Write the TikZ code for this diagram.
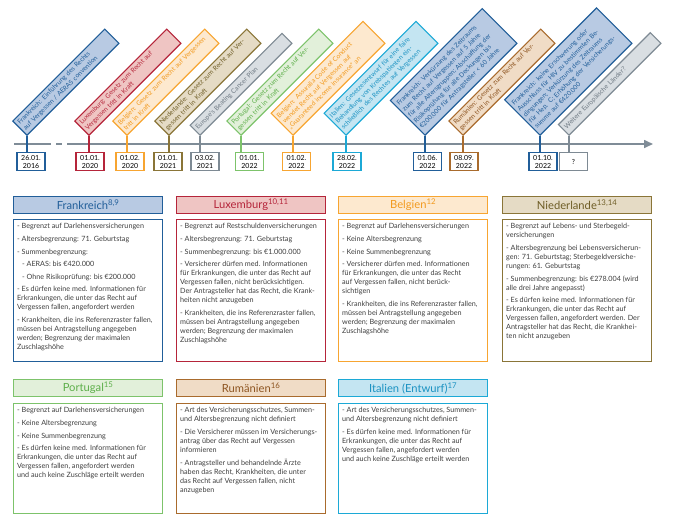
\documentclass[tikz,border=0pt]{standalone}
\usepackage{fontspec}
\setmainfont{Lato}
\usetikzlibrary{arrows.meta}
\definecolor{bluD}{HTML}{215E99}
\definecolor{bluF}{HTML}{B8CAE3}
\definecolor{redD}{HTML}{B5253A}
\definecolor{redF}{HTML}{EFC5C3}
\definecolor{orgD}{HTML}{F7A531}
\definecolor{orgF}{HTML}{FDE9CF}
\definecolor{orgT}{HTML}{F29A1E}
\definecolor{olvD}{HTML}{8A7538}
\definecolor{olvF}{HTML}{E5DBC5}
\definecolor{olvT}{HTML}{6F5E27}
\definecolor{gryD}{HTML}{7E8A94}
\definecolor{gryF}{HTML}{D9DEE2}
\definecolor{gryT}{HTML}{6E7983}
\definecolor{grnD}{HTML}{7DC36B}
\definecolor{grnF}{HTML}{E2F0DA}
\definecolor{grnT}{HTML}{5DAF4A}
\definecolor{cyaD}{HTML}{1CA9D6}
\definecolor{cyaF}{HTML}{C4E5F2}
\definecolor{cyaT}{HTML}{1A92C2}
\definecolor{brnD}{HTML}{A96B2D}
\definecolor{brnF}{HTML}{F0DCC6}
\definecolor{brnT}{HTML}{8E5521}
\definecolor{axisC}{HTML}{7F8C97}
\definecolor{bodyT}{HTML}{3F3F3F}
\newcommand\bitem[1]{\par\hangindent=3.9pt\hangafter=1\noindent-\ #1\par\vspace{3.6pt}}
\newcommand\sbitem[1]{\par\hangindent=9pt\hangafter=1\noindent\hspace*{5pt}-\ #1\par\vspace{3.6pt}}
\newcommand\bodytext[2]{\parbox[c][#1][t]{142pt}{\raggedright\parindent=0pt #2}}
\tikzset{
  cBlue/.style={draw=bluD, fill=bluF, text=bluD},
  cRed/.style={draw=redD, fill=redF, text=redD},
  cOrg/.style={draw=orgD, fill=orgF, text=orgT},
  cOlv/.style={draw=olvD, fill=olvF, text=olvT},
  cGry/.style={draw=gryD, fill=gryF, text=gryT},
  cGrn/.style={draw=grnD, fill=grnF, text=grnT},
  cCya/.style={draw=cyaD, fill=cyaF, text=cyaT},
  cBrn/.style={draw=brnD, fill=brnF, text=brnT},
  lbl/.style={rotate=45, anchor=south west, minimum width=130pt, text width=125pt,
    inner xsep=2.5pt, inner ysep=1pt, align=left, line width=1.1pt,
    font=\fontsize{6.5}{8.1}\selectfont},
  datebox/.style={draw, line width=1.1pt, fill=white, minimum width=28pt, minimum height=18pt,
    inner sep=0pt, align=center, anchor=north, text=black, font=\fontsize{7}{8}\selectfont},
  stem/.style={line width=1.1pt},
  axisline/.style={draw=axisC, line width=1.6pt},
  head/.style={line width=1.3pt, minimum width=149pt, minimum height=17pt, inner sep=0pt,
    anchor=north west, font=\fontsize{11.2}{12}\selectfont},
  body/.style={draw, line width=1.3pt, fill=white, anchor=north west, inner xsep=3.5pt, inner ysep=4pt,
    text=bodyT, font=\fontsize{7.2}{9}\selectfont}
}
\begin{document}
\begin{tikzpicture}[x=1pt,y=-1pt]
\useasboundingbox (0,0) rectangle (674,525);
% axis
\coordinate (A0) at (14,144);
\coordinate (A1) at (45,144);
\coordinate (A2) at (72,144);
\coordinate (A3) at (653,144);
\draw[axisline] (A0) -- (A1);
\draw[axisline, dash pattern=on 6pt off 5pt] (A1) -- (A2);
\draw[axisline, -{Triangle[length=9pt,width=8pt]}] (A2) -- (A3);
% labels
\node[lbl, cBlue, minimum height=20pt] (L1) at (27,136) {Frankreich: Einführung des Rechts\\auf Vergessen / AERAS convention};
\node[lbl, cRed, minimum height=20pt] (L2) at (89,136) {Luxemburg: Gesetz zum Recht auf\\Vergessen tritt in Kraft};
\node[lbl, cOrg, minimum height=20pt] (L3) at (127,136) {Belgien: Gesetz zum Recht auf Vergessen\\tritt in Kraft};
\node[lbl, cOlv, minimum height=20pt] (L4) at (169,136) {Niederlande: Gesetz zum Recht auf Ver-\\gessen tritt in Kraft};
\node[lbl, cGry, minimum height=14pt] (L5) at (200,136) {Europe's Beating Cancer Plan};
\node[lbl, cGrn, minimum height=20pt] (L6) at (241,136) {Portugal: Gesetz zum Recht auf Ver-\\gessen tritt in Kraft};
\node[lbl, cOrg, minimum height=31pt] (L7) at (293,136) {Belgien: Assuralia Code of Conduct\\wendet Recht auf Vergessen auf\\„Guaranteed income insurance“ an};
\node[lbl, cCya, minimum height=31pt] (L8) at (346,136) {Italien: Gesetzesentwurf für eine faire\\Behandlung von Krebspatienten ein-\\schließlich des Rechtes auf Vergessen};
\node[lbl, cBlue, minimum height=49pt] (L9) at (425,136) {Frankreich: Verkürzung des Zeitraums\\zum Recht auf Vergessen auf 5 Jahre\\für alle Altersgruppen; Abschaffung der\\Risikoprüfung für alle Deckungen bis\\€200.000 für Antragsteller < 60 Jahre};
\node[lbl, cBrn, minimum height=20pt] (L10) at (463,136) {Rumänien: Gesetz zum Recht auf Ver-\\gessen tritt in Kraft};
\node[lbl, cBlue, minimum height=50pt] (L11) at (540,136) {Frankreich: keine Erschwerung oder\\Ausschluss für HIV zu bestimmten Be-\\dingungen; Verkürzung des Zeitraums\\für Hep. C; Erhöhung der Versicherungs-\\summe auf €420.000};
\node[lbl, cGry, minimum height=15pt] (L12) at (569,136) {Weitere Europäische Länder?};
% date boxes
\node[datebox, draw=bluD] (D1) at (31,152) {26.01.\\2016};
\node[datebox, draw=redD] (D2) at (90,152) {01.01.\\2020};
\node[datebox, draw=orgD] (D3) at (130,152) {01.02.\\2020};
\node[datebox, draw=olvD] (D4) at (168,152) {01.01.\\2021};
\node[datebox, draw=gryD] (D5) at (205,152) {03.02.\\2021};
\node[datebox, draw=grnD] (D6) at (249.5,152) {01.01.\\2022};
\node[datebox, draw=orgD] (D7) at (296.5,152) {01.02.\\2022};
\node[datebox, draw=cyaD] (D8) at (347,152) {28.02.\\2022};
\node[datebox, draw=bluD] (D9) at (427.5,152) {01.06.\\2022};
\node[datebox, draw=brnD] (D10) at (464,152) {08.09.\\2022};
\node[datebox, draw=bluD] (D11) at (543,152) {01.10.\\2022};
\node[datebox, draw=gryD] (D12) at (573.5,152) {?};
% stems
\draw[stem, bluD] (L1.south west) -- (L1.south west |- D1.north);
\draw[stem, redD] (L2.south west) -- (L2.south west |- D2.north);
\draw[stem, orgD] (L3.south west) -- (L3.south west |- D3.north);
\draw[stem, olvD] (L4.south west) -- (L4.south west |- D4.north);
\draw[stem, gryD] (L5.south west) -- (L5.south west |- D5.north);
\draw[stem, grnD] (L6.south west) -- (L6.south west |- D6.north);
\draw[stem, orgD] (L7.south west) -- (L7.south west |- D7.north);
\draw[stem, cyaD] (L8.south west) -- (L8.south west |- D8.north);
\draw[stem, bluD] (L9.south west) -- (L9.south west |- D9.north);
\draw[stem, brnD] (L10.south west) -- (L10.south west |- D10.north);
\draw[stem, bluD] (L11.south west) -- (L11.south west |- D11.north);
\draw[stem, gryD] (L12.south west) -- (L12.south west |- D12.north);
% panels row 1
\node[head, cBlue] (HFR) at (13,196) {Frankreich\textsuperscript{8,9}};
\node[body, draw=bluD] (BFR) at (13,219) {\bodytext{134pt}{%
\bitem{Begrenzt auf Darlehensversicherungen}
\bitem{Altersbegrenzung: 71. Geburtstag}
\bitem{Summenbegrenzung:}
\sbitem{AERAS: bis €420.000}
\sbitem{Ohne Risikoprüfung: bis €200.000}
\bitem{Es dürfen keine med. Informationen für\\Erkrankungen, die unter das Recht auf\\Vergessen fallen, angefordert werden}
\bitem{Krankheiten, die ins Referenzraster fallen,\\müssen bei Antragstellung angegeben\\werden; Begrenzung der maximalen\\Zuschlagshöhe}}};
\node[head, cRed] (HLU) at (176,196) {Luxemburg\textsuperscript{10,11}};
\node[body, draw=redD] (BLU) at (176,219) {\bodytext{134pt}{%
\bitem{Begrenzt auf Restschuldenversicherungen}
\bitem{Altersbegrenzung: 71. Geburtstag}
\bitem{Summenbegrenzung: bis €1.000.000}
\bitem{Versicherer dürfen med. Informationen\\für Erkrankungen, die unter das Recht auf\\Vergessen fallen, nicht berücksichtigen.\\Der Antragsteller hat das Recht, die Krank-\\heiten nicht anzugeben}
\bitem{Krankheiten, die ins Referenzraster fallen,\\müssen bei Antragstellung angegeben\\werden; Begrenzung der maximalen\\Zuschlagshöhe}}};
\node[head, cOrg] (HBE) at (338,196) {Belgien\textsuperscript{12}};
\node[body, draw=orgD] (BBE) at (338,219) {\bodytext{134pt}{%
\bitem{Begrenzt auf Darlehensversicherungen}
\bitem{Keine Altersbegrenzung}
\bitem{Keine Summenbegrenzung}
\bitem{Versicherer dürfen med. Informationen\\für Erkrankungen, die unter das Recht\\auf Vergessen fallen, nicht berück-\\sichtigen}
\bitem{Krankheiten, die ins Referenzraster fallen,\\müssen bei Antragstellung angegeben\\werden; Begrenzung der maximalen\\Zuschlagshöhe}}};
\node[head, cOlv] (HNL) at (502,196) {Niederlande\textsuperscript{13,14}};
\node[body, draw=olvD] (BNL) at (502,219) {\bodytext{134pt}{%
\bitem{Begrenzt auf Lebens- und Sterbegeld-\\versicherungen}
\bitem{Altersbegrenzung bei Lebensversicherun-\\gen: 71. Geburtstag; Sterbegeldversiche-\\rungen: 61. Geburtstag}
\bitem{Summenbegrenzung: bis €278.004 (wird\\alle drei Jahre angepasst)}
\bitem{Es dürfen keine med. Informationen für\\Erkrankungen, die unter das Recht auf\\Vergessen fallen, angefordert werden. Der\\Antragsteller hat das Recht, die Krankhei-\\ten nicht anzugeben}}};
% panels row 2
\node[head, cGrn] (HPT) at (13,379) {Portugal\textsuperscript{15}};
\node[body, draw=grnD] (BPT) at (13,403) {\bodytext{102pt}{%
\bitem{Begrenzt auf Darlehensversicherungen}
\bitem{Keine Altersbegrenzung}
\bitem{Keine Summenbegrenzung}
\bitem{Es dürfen keine med. Informationen für\\Erkrankungen, die unter das Recht auf\\Vergessen fallen, angefordert werden\\und auch keine Zuschläge erteilt werden}}};
\node[head, cBrn] (HRO) at (176,379) {Rumänien\textsuperscript{16}};
\node[body, draw=brnD] (BRO) at (176,403) {\bodytext{102pt}{%
\bitem{Art des Versicherungsschutzes, Summen-\\und Altersbegrenzung nicht definiert}
\bitem{Die Versicherer müssen im Versicherungs-\\antrag über das Recht auf Vergessen\\informieren}
\bitem{Antragsteller und behandelnde Ärzte\\haben das Recht, Krankheiten, die unter\\das Recht auf Vergessen fallen, nicht\\anzugeben}}};
\node[head, cCya] (HIT) at (338,379) {Italien (Entwurf)\textsuperscript{17}};
\node[body, draw=cyaD] (BIT) at (338,403) {\bodytext{102pt}{%
\bitem{Art des Versicherungsschutzes, Summen-\\und Altersbegrenzung nicht definiert}
\bitem{Es dürfen keine med. Informationen für\\Erkrankungen, die unter das Recht auf\\Vergessen fallen, angefordert werden\\und auch keine Zuschläge erteilt werden}}};
\end{tikzpicture}
\end{document}
